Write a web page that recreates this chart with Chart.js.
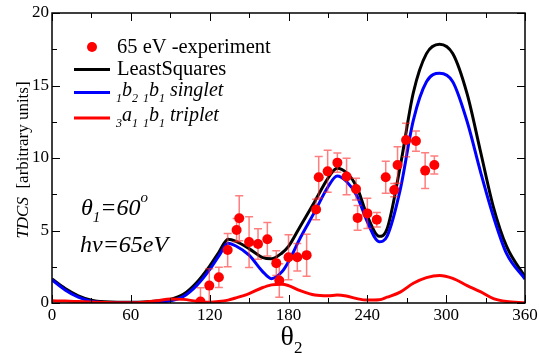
<!DOCTYPE html>
<html>
<head>
<meta charset="utf-8">
<script src="https://cdn.jsdelivr.net/npm/chart.js@4.4.0/dist/chart.umd.min.js"></script>
<style>
  html, body { margin: 0; padding: 0; background: #fff; }
  canvas { display: block; }
</style>
</head>
<body>
<canvas id="c" width="539" height="353"></canvas>
<script>
// theory curves, sampled on a shared theta2 grid
const thetaCurve = [0,10,20,30,40,50,60,70,80,90,100,110,120,127,134,140,150,160,167,175,180,189,200,210,217,224,232,240,249,255,265,275,285,295,305,316,326,336,346,360];
const leastSquares = [1.65,1.0,0.5,0.2,0.08,0.05,0.05,0.07,0.13,0.25,0.6,1.4,2.55,3.5,4.4,4.25,3.75,3.15,3.05,3.45,3.9,5.3,7.0,8.6,9.3,9.0,8.0,6.0,4.6,5.1,9.4,14.5,17.2,17.85,17.2,14.4,10.5,6.6,3.9,1.8];
const singlet = [1.6,0.9,0.4,0.12,0.02,0,0,0.02,0.06,0.15,0.45,1.2,2.3,3.25,4.12,3.93,3.3,2.2,1.68,2.15,2.85,4.5,6.3,8.0,8.76,8.4,7.4,5.6,4.23,4.6,7.8,12.6,15.26,15.84,15.26,12.5,9.1,5.95,3.4,1.65];
const triplet = [0.15,0.13,0.1,0.07,0.04,0.02,0.02,0.06,0.15,0.28,0.25,0.12,0.05,0.1,0.2,0.35,0.65,1.05,1.25,1.3,1.2,0.85,0.55,0.5,0.55,0.48,0.3,0.2,0.22,0.4,0.75,1.36,1.75,1.9,1.7,1.2,0.78,0.3,0.1,0.02];

// 65 eV experiment
const thetaExp = [113,119.7,127,133.7,140.5,142.5,150,156.8,163.9,170.7,173,180,186.7,193.8,201,203,209.8,217.2,224.2,231.4,232.6,240,247.2,254,260.5,263,269.5,277,284,291];
const tdcsExp = [0.1,1.2,1.77,3.65,5.03,5.85,4.2,4.07,4.4,2.75,1.55,3.15,3.15,3.3,6.45,8.67,9.08,9.68,8.73,7.86,5.87,6.18,5.75,8.67,7.79,9.52,11.24,11.17,9.13,9.52];
const errExp = [0.95,1.17,0.7,1.15,0.8,1.55,1.75,1.05,1.15,0.85,1.15,1.55,0.95,1.45,0.7,1.43,1.45,0.67,1.26,0.75,0.85,1.05,0.5,1.1,0.46,1.26,1.15,0.7,1.23,0.62];

const xTicks = [0, 60, 120, 180, 240, 300, 360];
const yTicks = [0, 5, 10, 15, 20];

const SERIF = '"Liberation Serif", "DejaVu Serif", serif';

const pts = (xs, ys) => xs.map((x, i) => ({ x, y: ys[i] }));

function curve(label, ys, color) {
  return {
    label, data: pts(thetaCurve, ys), showLine: true,
    borderColor: color, borderWidth: 3, pointRadius: 0,
    cubicInterpolationMode: 'monotone', fill: false
  };
}

// draws a run of text pieces; sub/sup pieces are smaller and shifted
function rich(ctx, x, y, parts, size, italic) {
  for (const p of parts) {
    const s = p.sub || p.sup ? Math.round(size * 0.62) : size;
    ctx.font = `${p.it ?? italic ? 'italic ' : ''}${s}px ${SERIF}`;
    const dy = p.sub ? size * 0.3 : p.sup ? -size * 0.55 : 0;
    ctx.fillText(p.t, x, y + dy);
    x += ctx.measureText(p.t).width;
  }
  return x;
}
function richWidth(ctx, parts, size, italic) {
  let w = 0;
  for (const p of parts) {
    const s = p.sub || p.sup ? Math.round(size * 0.62) : size;
    ctx.font = `${p.it ?? italic ? 'italic ' : ''}${s}px ${SERIF}`;
    w += ctx.measureText(p.t).width;
  }
  return w;
}

const decor = {
  id: 'decor',
  beforeDatasetDraw(chart, args) {
    if (args.index !== 0) return;
    const { ctx, chartArea: a, scales: { x, y } } = chart;
    ctx.save();
    ctx.beginPath(); ctx.rect(a.left, a.top, a.right - a.left, a.bottom - a.top); ctx.clip();
    ctx.strokeStyle = 'rgba(255,40,40,0.6)';
    ctx.lineWidth = 1.5;
    thetaExp.forEach((t, i) => {
      const px = x.getPixelForValue(t);
      const t1 = y.getPixelForValue(tdcsExp[i] + errExp[i]);
      const b1 = y.getPixelForValue(tdcsExp[i] - errExp[i]);
      ctx.beginPath();
      ctx.moveTo(px, t1); ctx.lineTo(px, b1);
      ctx.moveTo(px - 4, t1); ctx.lineTo(px + 4, t1);
      ctx.moveTo(px - 4, b1); ctx.lineTo(px + 4, b1);
      ctx.stroke();
    });
    ctx.restore();
  },
  afterDraw(chart) {
    const { ctx, chartArea: a, scales: { x, y } } = chart;
    ctx.save();
    // frame + inward ticks on all four sides
    ctx.strokeStyle = '#000';
    ctx.lineWidth = 1.5;
    ctx.strokeRect(a.left, a.top, a.right - a.left, a.bottom - a.top);
    ctx.lineWidth = 1;
    ctx.beginPath();
    for (let v = 0; v <= 360; v += 30) {
      const px = Math.round(x.getPixelForValue(v)) + 0.5;
      const len = v % 60 === 0 ? 8 : 5;
      ctx.moveTo(px, a.bottom); ctx.lineTo(px, a.bottom - len);
      ctx.moveTo(px, a.top); ctx.lineTo(px, a.top + len);
    }
    for (let v = 0; v <= 20; v += 2.5) {
      const py = Math.round(y.getPixelForValue(v)) + 0.5;
      const len = v % 5 === 0 ? 8 : 5;
      ctx.moveTo(a.left, py); ctx.lineTo(a.left + len, py);
      ctx.moveTo(a.right, py); ctx.lineTo(a.right - len, py);
    }
    ctx.stroke();

    ctx.fillStyle = '#000';
    ctx.textBaseline = 'alphabetic';
    ctx.textAlign = 'left';

    // legend
    ctx.fillStyle = '#ff0000';
    ctx.beginPath(); ctx.arc(92, 47, 5, 0, Math.PI * 2); ctx.fill();
    ctx.fillStyle = '#000';
    ctx.font = `20.5px ${SERIF}`;
    ctx.fillText('65 eV -experiment', 117, 53);
    ctx.fillText('LeastSquares', 117, 75);
    ctx.lineWidth = 3;
    [['#000000', 69.5], ['#0000ff', 92.5], ['#ff0000', 118]].forEach(([c, ly]) => {
      ctx.strokeStyle = c;
      ctx.beginPath(); ctx.moveTo(74, ly); ctx.lineTo(110, ly); ctx.stroke();
    });
    rich(ctx, 116, 96, [{ t: '1', sub: 1 }, { t: 'b' }, { t: '2', sub: 1 }, { t: ' ' },
      { t: '1', sub: 1 }, { t: 'b' }, { t: '1', sub: 1 }, { t: ' singlet' }], 20, true);
    rich(ctx, 116, 121, [{ t: '3', sub: 1 }, { t: 'a' }, { t: '1', sub: 1 }, { t: ' ' },
      { t: '1', sub: 1 }, { t: 'b' }, { t: '1', sub: 1 }, { t: ' triplet' }], 20, true);

    // annotations
    rich(ctx, 81, 215, [{ t: 'θ' }, { t: '1', sub: 1 }, { t: '=60' }, { t: 'o', sup: 1 }], 24, true);
    rich(ctx, 80, 252, [{ t: 'hν=65eV' }], 24, true);

    // axis titles
    const yParts = [{ t: 'TDCS', it: true }, { t: '  [arbitrary units]', it: false }];
    const yw = richWidth(ctx, yParts, 17, false);
    ctx.save();
    ctx.translate(28, 160);
    ctx.rotate(-Math.PI / 2);
    rich(ctx, -yw / 2, 0, yParts, 17, false);
    ctx.restore();

    const xParts = [{ t: 'θ' }, { t: '2', sub: 1 }];
    const xw = richWidth(ctx, xParts, 28, false);
    rich(ctx, (a.left + a.right) / 2 - xw / 2 + 3, 345, xParts, 28, false);
    ctx.restore();
  }
};

new Chart(document.getElementById('c'), {
  type: 'scatter',
  data: {
    datasets: [
      {
        label: '65 eV -experiment', data: pts(thetaExp, tdcsExp),
        backgroundColor: '#ff0000', borderWidth: 0, pointRadius: 5, pointHoverRadius: 5
      },
      curve('3a1 1b1 triplet', triplet, '#ff0000'),
      curve('1b2 1b1 singlet', singlet, '#0000ff'),
      curve('LeastSquares', leastSquares, '#000000')
    ]
  },
  options: {
    responsive: false,
    animation: false,
    events: [],
    layout: { padding: { left: 0, right: 14, top: 13, bottom: 0 } },
    plugins: { legend: { display: false }, tooltip: { enabled: false } },
    scales: {
      x: {
        type: 'linear', min: 0, max: 360,
        afterBuildTicks: (s) => { s.ticks = xTicks.map(v => ({ value: v })); },
        afterFit: (s) => { s.height = 50; s.paddingLeft = 0; s.paddingRight = 0; },
        grid: { display: false, drawTicks: false },
        border: { display: false },
        ticks: { color: '#000', padding: 2, maxRotation: 0, font: { family: SERIF, size: 17 } }
      },
      y: {
        min: 0, max: 20,
        afterBuildTicks: (s) => { s.ticks = yTicks.map(v => ({ value: v })); },
        afterFit: (s) => { s.width = 52; s.paddingTop = 0; s.paddingBottom = 0; },
        grid: { display: false, drawTicks: false },
        border: { display: false },
        ticks: { color: '#000', padding: 3, font: { family: SERIF, size: 17 } }
      }
    }
  },
  plugins: [decor]
});
</script>
</body>
</html>
